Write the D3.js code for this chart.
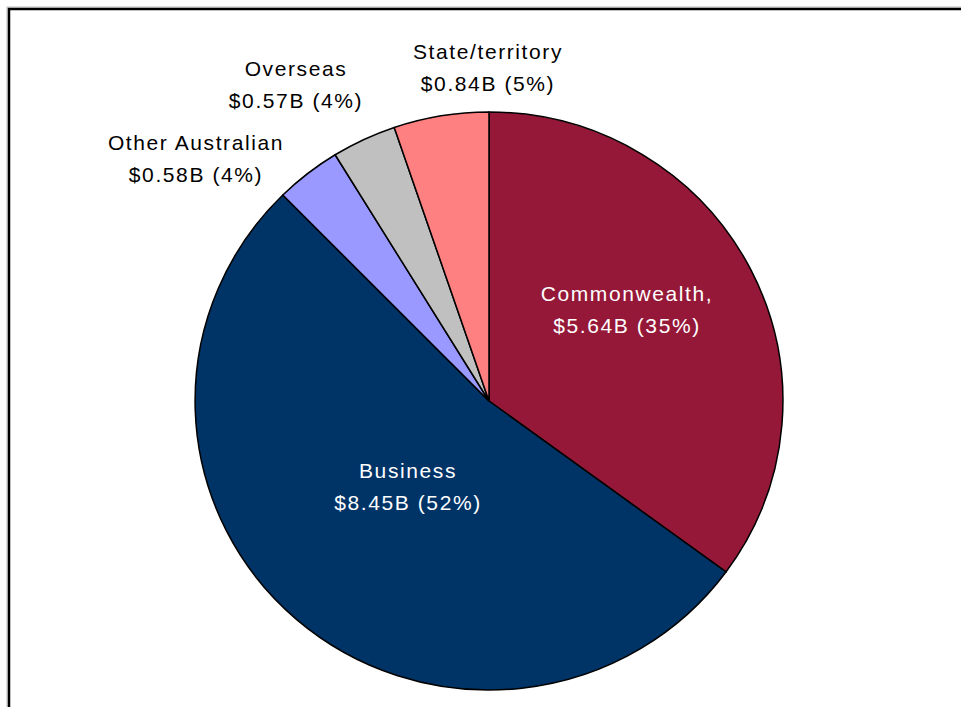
<!DOCTYPE html>
<html>
<head>
<meta charset="utf-8">
<script src="https://cdn.jsdelivr.net/npm/d3@7"></script>
<style>
  html, body { margin: 0; padding: 0; background: #fff; }
  svg { display: block; }
  text { font-family: "Liberation Sans", Arial, sans-serif; }
</style>
</head>
<body>
<svg id="chart" width="961" height="707"></svg>
<script>
// Funding sources, billions of dollars
const categories = ["Commonwealth", "Business", "Other Australian", "Overseas", "State/territory"];
const values = [5.64, 8.45, 0.58, 0.57, 0.84];
const percents = [35, 52, 4, 4, 5];
const labelLines = [
  ["Commonwealth,", "$5.64B (35%)"],
  ["Business", "$8.45B (52%)"],
  ["Other Australian", "$0.58B (4%)"],
  ["Overseas", "$0.57B (4%)"],
  ["State/territory", "$0.84B (5%)"]
];
const colors = ["#951838", "#003366", "#9999FF", "#C0C0C0", "#FF8080"];

// Label anchor points (offset from pie centre) and text colour
const labelLayout = [
  { dx: 138, dy: -92, fill: "#fff" },
  { dx: -81, dy: 85, fill: "#fff" },
  { dx: -293, dy: -243, fill: "#000" },
  { dx: -193, dy: -317, fill: "#000" },
  { dx: -1, dy: -334, fill: "#000" }
];

const svg = d3.select("#chart");

// Outer frame (extends past the right and bottom edges)
svg.append("rect")
  .attr("x", 7).attr("y", 7).attr("width", 1000).attr("height", 1000)
  .attr("fill", "none").attr("stroke", "#bdbdbd").attr("stroke-width", 1);
svg.append("rect")
  .attr("x", 9).attr("y", 9).attr("width", 1000).attr("height", 1000)
  .attr("fill", "none").attr("stroke", "#000").attr("stroke-width", 2.5);

const cx = 489, cy = 401;
const radius = 289;

const pie = d3.pie().value(d => d).sort(null);
const arc = d3.arc().innerRadius(0).outerRadius(radius);
const arcs = pie(values);

const g = svg.append("g")
  .attr("transform", `translate(${cx},${cy}) scale(1.017,1)`);

g.selectAll("path.slice")
  .data(arcs)
  .join("path")
  .attr("class", "slice")
  .attr("d", arc)
  .attr("fill", (d, i) => colors[i])
  .attr("stroke", "#000")
  .attr("stroke-width", 1.5)
  .attr("stroke-linejoin", "round");

const labels = svg.append("g").attr("transform", `translate(${cx},${cy})`);
labelLines.forEach((lines, i) => {
  const L = labelLayout[i];
  const t = labels.append("text")
    .attr("x", L.dx).attr("y", L.dy)
    .attr("text-anchor", "middle")
    .attr("font-size", 21)
    .attr("letter-spacing", "1.6px")
    .attr("fill", L.fill);
  lines.forEach((s, j) => {
    t.append("tspan")
      .attr("x", L.dx)
      .attr("y", L.dy + (j - 0.5) * 32)
      .attr("dominant-baseline", "central")
      .text(s);
  });
});
</script>
</body>
</html>
